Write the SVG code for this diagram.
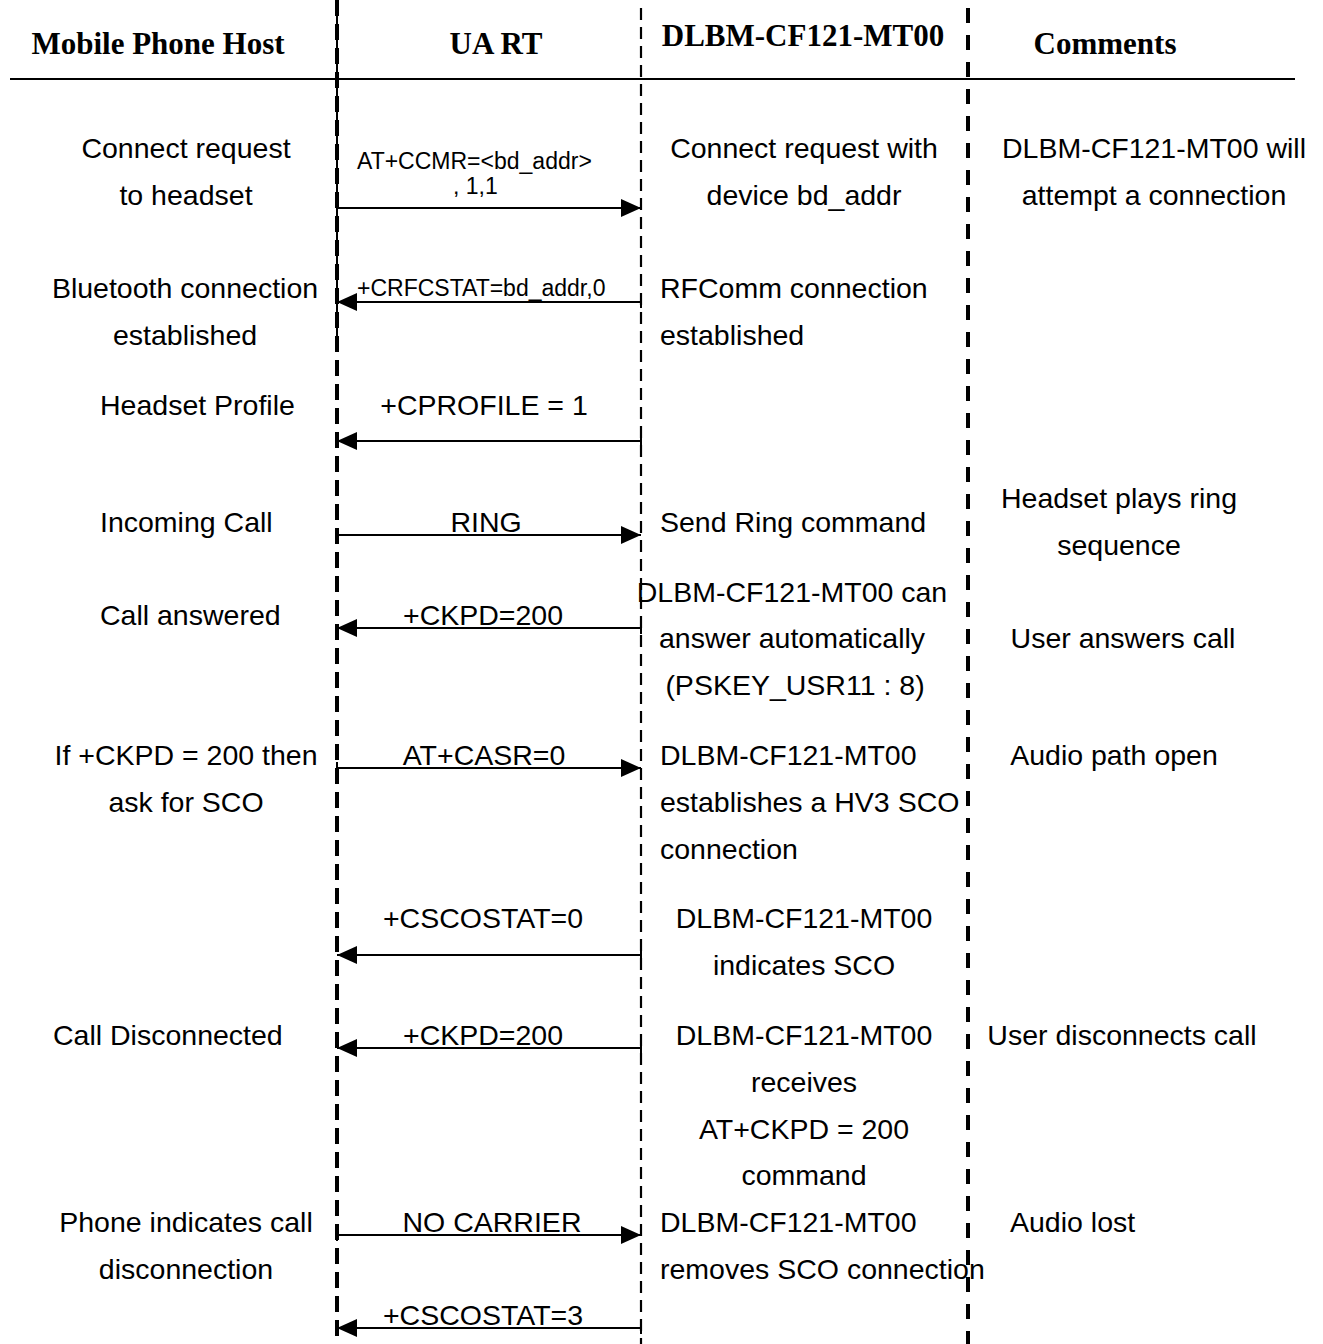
<svg xmlns="http://www.w3.org/2000/svg" width="1323" height="1344" viewBox="0 0 1323 1344">
<style>
.hd{font-family:"Liberation Serif","Times New Roman",serif;font-weight:bold;font-size:31px;fill:#000}
.t{font-family:"Liberation Sans",Arial,sans-serif;font-size:28.5px;fill:#000}
.s{font-family:"Liberation Sans",Arial,sans-serif;font-size:23px;fill:#000}
.m{text-anchor:middle}
.msg{stroke:#000;stroke-width:2;fill:none}
</style>
<defs>
<marker id="ah" markerUnits="userSpaceOnUse" markerWidth="20" markerHeight="18" refX="20" refY="9" orient="auto">
<path d="M0,0 L20,9 L0,18 z" fill="#000"/>
</marker>
<marker id="tk" markerUnits="userSpaceOnUse" markerWidth="4" markerHeight="14" refX="1" refY="7" orient="auto">
<path d="M1,1 L1,13" stroke="#000" stroke-width="2"/>
</marker>
</defs>
<rect width="1323" height="1344" fill="#fff"/>

<g id="lifelines">
<line x1="337" y1="0" x2="337" y2="347" stroke="#000" stroke-width="2"/>
<line x1="337" y1="0" x2="337" y2="1344" stroke="#000" stroke-width="4" stroke-dasharray="16 8"/>
<line x1="641" y1="8" x2="641" y2="1344" stroke="#000" stroke-width="2.2" stroke-dasharray="12 7"/>
<line x1="968" y1="8" x2="968" y2="1344" stroke="#000" stroke-width="4" stroke-dasharray="15 12"/>
</g>

<g id="header">
<line x1="10" y1="79" x2="1295" y2="79" stroke="#000" stroke-width="2"/>
<text class="hd m" x="158" y="54">Mobile Phone Host</text>
<text class="hd m" x="496" y="54">UA RT</text>
<text class="hd m" x="803" y="46">DLBM-CF121-MT00</text>
<text class="hd m" x="1105" y="54">Comments</text>
</g>

<g id="connectors">
<line class="msg" x1="337" y1="208" x2="641" y2="208" marker-start="url(#tk)" marker-end="url(#ah)"/>
<line class="msg" x1="641" y1="302" x2="337" y2="302" marker-start="url(#tk)" marker-end="url(#ah)"/>
<line class="msg" x1="641" y1="441" x2="337" y2="441" marker-start="url(#tk)" marker-end="url(#ah)"/>
<line class="msg" x1="337" y1="535" x2="641" y2="535" marker-start="url(#tk)" marker-end="url(#ah)"/>
<line class="msg" x1="641" y1="628" x2="337" y2="628" marker-start="url(#tk)" marker-end="url(#ah)"/>
<line class="msg" x1="337" y1="768" x2="641" y2="768" marker-start="url(#tk)" marker-end="url(#ah)"/>
<line class="msg" x1="641" y1="955" x2="337" y2="955" marker-start="url(#tk)" marker-end="url(#ah)"/>
<line class="msg" x1="641" y1="1048" x2="337" y2="1048" marker-start="url(#tk)" marker-end="url(#ah)"/>
<line class="msg" x1="337" y1="1235" x2="641" y2="1235" marker-start="url(#tk)" marker-end="url(#ah)"/>
<line class="msg" x1="641" y1="1328" x2="337" y2="1328" marker-start="url(#tk)" marker-end="url(#ah)"/>
<text class="s" x="357" y="169">AT+CCMR=&lt;bd_addr&gt;</text>
<text class="s" x="453" y="194">, 1,1</text>
<text class="s" x="357" y="296">+CRFCSTAT=bd_addr,0</text>
<text class="t m" x="484" y="415">+CPROFILE = 1</text>
<text class="t m" x="486" y="532">RING</text>
<text class="t m" x="483" y="625">+CKPD=200</text>
<text class="t m" x="484" y="765">AT+CASR=0</text>
<text class="t m" x="483" y="928">+CSCOSTAT=0</text>
<text class="t m" x="483" y="1045">+CKPD=200</text>
<text class="t m" x="492" y="1232">NO CARRIER</text>
<text class="t m" x="483" y="1325">+CSCOSTAT=3</text>
</g>

<g id="host">
<text class="t m" x="186" y="158">Connect request</text>
<text class="t m" x="186" y="205">to headset</text>
<text class="t m" x="185" y="298">Bluetooth connection</text>
<text class="t m" x="185" y="345">established</text>
<text class="t" x="100" y="415">Headset Profile</text>
<text class="t" x="100" y="532">Incoming Call</text>
<text class="t" x="100" y="625">Call answered</text>
<text class="t m" x="186" y="765">If +CKPD = 200 then</text>
<text class="t m" x="186" y="812">ask for SCO</text>
<text class="t" x="53" y="1045">Call Disconnected</text>
<text class="t m" x="186" y="1232">Phone indicates call</text>
<text class="t m" x="186" y="1279">disconnection</text>
</g>

<g id="module">
<text class="t m" x="804" y="158">Connect request with</text>
<text class="t m" x="804" y="205">device bd_addr</text>
<text class="t" x="660" y="298">RFComm connection</text>
<text class="t" x="660" y="345">established</text>
<text class="t" x="660" y="532">Send Ring command</text>
<text class="t m" x="792" y="602">DLBM-CF121-MT00 can</text>
<text class="t m" x="792" y="648">answer automatically</text>
<text class="t m" x="795" y="695">(PSKEY_USR11 : 8)</text>
<text class="t" x="660" y="765">DLBM-CF121-MT00</text>
<text class="t" x="660" y="812">establishes a HV3 SCO</text>
<text class="t" x="660" y="859">connection</text>
<text class="t m" x="804" y="928">DLBM-CF121-MT00</text>
<text class="t m" x="804" y="975">indicates SCO</text>
<text class="t m" x="804" y="1045">DLBM-CF121-MT00</text>
<text class="t m" x="804" y="1092">receives</text>
<text class="t m" x="804" y="1139">AT+CKPD = 200</text>
<text class="t m" x="804" y="1185">command</text>
<text class="t" x="660" y="1232">DLBM-CF121-MT00</text>
<text class="t" x="660" y="1279">removes SCO connection</text>
</g>

<g id="comments">
<text class="t m" x="1154" y="158">DLBM-CF121-MT00 will</text>
<text class="t m" x="1154" y="205">attempt a connection</text>
<text class="t m" x="1119" y="508">Headset plays ring</text>
<text class="t m" x="1119" y="555">sequence</text>
<text class="t m" x="1123" y="648">User answers call</text>
<text class="t m" x="1114" y="765">Audio path open</text>
<text class="t m" x="1122" y="1045">User disconnects call</text>
<text class="t" x="1010" y="1232">Audio lost</text>
</g>
</svg>
